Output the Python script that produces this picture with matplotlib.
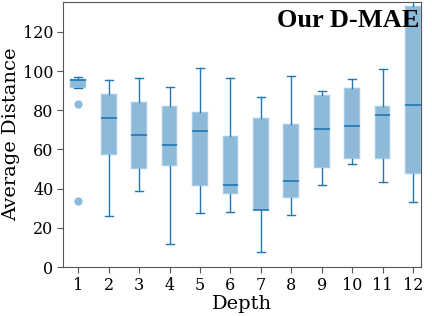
import matplotlib.pyplot as plt

depth = list(range(1, 13))
whislo = [91.5, 25.9, 38.8, 11.7, 27.4, 28.1, 7.5, 26.7, 41.7, 52.4, 43.6, 33.2]
q1 = [91.5, 57.0, 50.0, 51.7, 41.5, 37.4, 29.0, 35.1, 50.7, 55.3, 55.3, 47.3]
med = [95.5, 76.3, 67.4, 62.3, 69.5, 42.0, 29.3, 44.1, 70.6, 71.9, 77.5, 82.9]
q3 = [95.8, 88.5, 84.0, 82.0, 79.2, 67.0, 76.1, 72.9, 87.7, 91.4, 82.2, 133.3]
whishi = [97.2, 95.5, 96.5, 92.0, 101.6, 96.7, 86.8, 97.7, 90.0, 96.0, 100.8, 145.0]
fliers = [[83.0, 33.7], [], [], [], [], [], [], [], [], [], [], []]

stats = []
for i in range(len(depth)):
    stats.append(dict(whislo=whislo[i], q1=q1[i], med=med[i], q3=q3[i],
                      whishi=whishi[i], fliers=fliers[i]))

plt.rcParams["font.family"] = "DejaVu Serif"
fig, ax = plt.subplots(figsize=(4.32, 3.16), dpi=100)

blue = "#1f77b4"
ax.bxp(stats, positions=depth, widths=0.52, patch_artist=True,
       boxprops=dict(facecolor=blue, alpha=0.5, edgecolor="#cfe3f2", linewidth=1.2),
       medianprops=dict(color=blue, linewidth=1.2),
       whiskerprops=dict(color=blue, linewidth=1),
       capprops=dict(color=blue, linewidth=1),
       flierprops=dict(marker="o", markerfacecolor=blue, markeredgecolor="none",
                       alpha=0.5, markersize=6))

ax.set_xlim(0.5, 12.27)
ax.set_ylim(0, 135.3)
ax.set_yticks([0, 20, 40, 60, 80, 100, 120])
ax.set_xlabel("Depth", fontsize=14, labelpad=1)
ax.set_ylabel("Average Distance", fontsize=14, labelpad=2)
ax.tick_params(labelsize=11.5, color="#555555", length=4, pad=3)
for s in ax.spines.values():
    s.set_color("#555555")

ax.text(0.995, 0.93, "Our D-MAE", transform=ax.transAxes, ha="right", va="center",
        fontsize=19, fontweight="bold", family="Liberation Serif")

fig.subplots_adjust(left=0.146, right=0.975, top=0.994, bottom=0.155)
fig.savefig("out.png", dpi=100)
